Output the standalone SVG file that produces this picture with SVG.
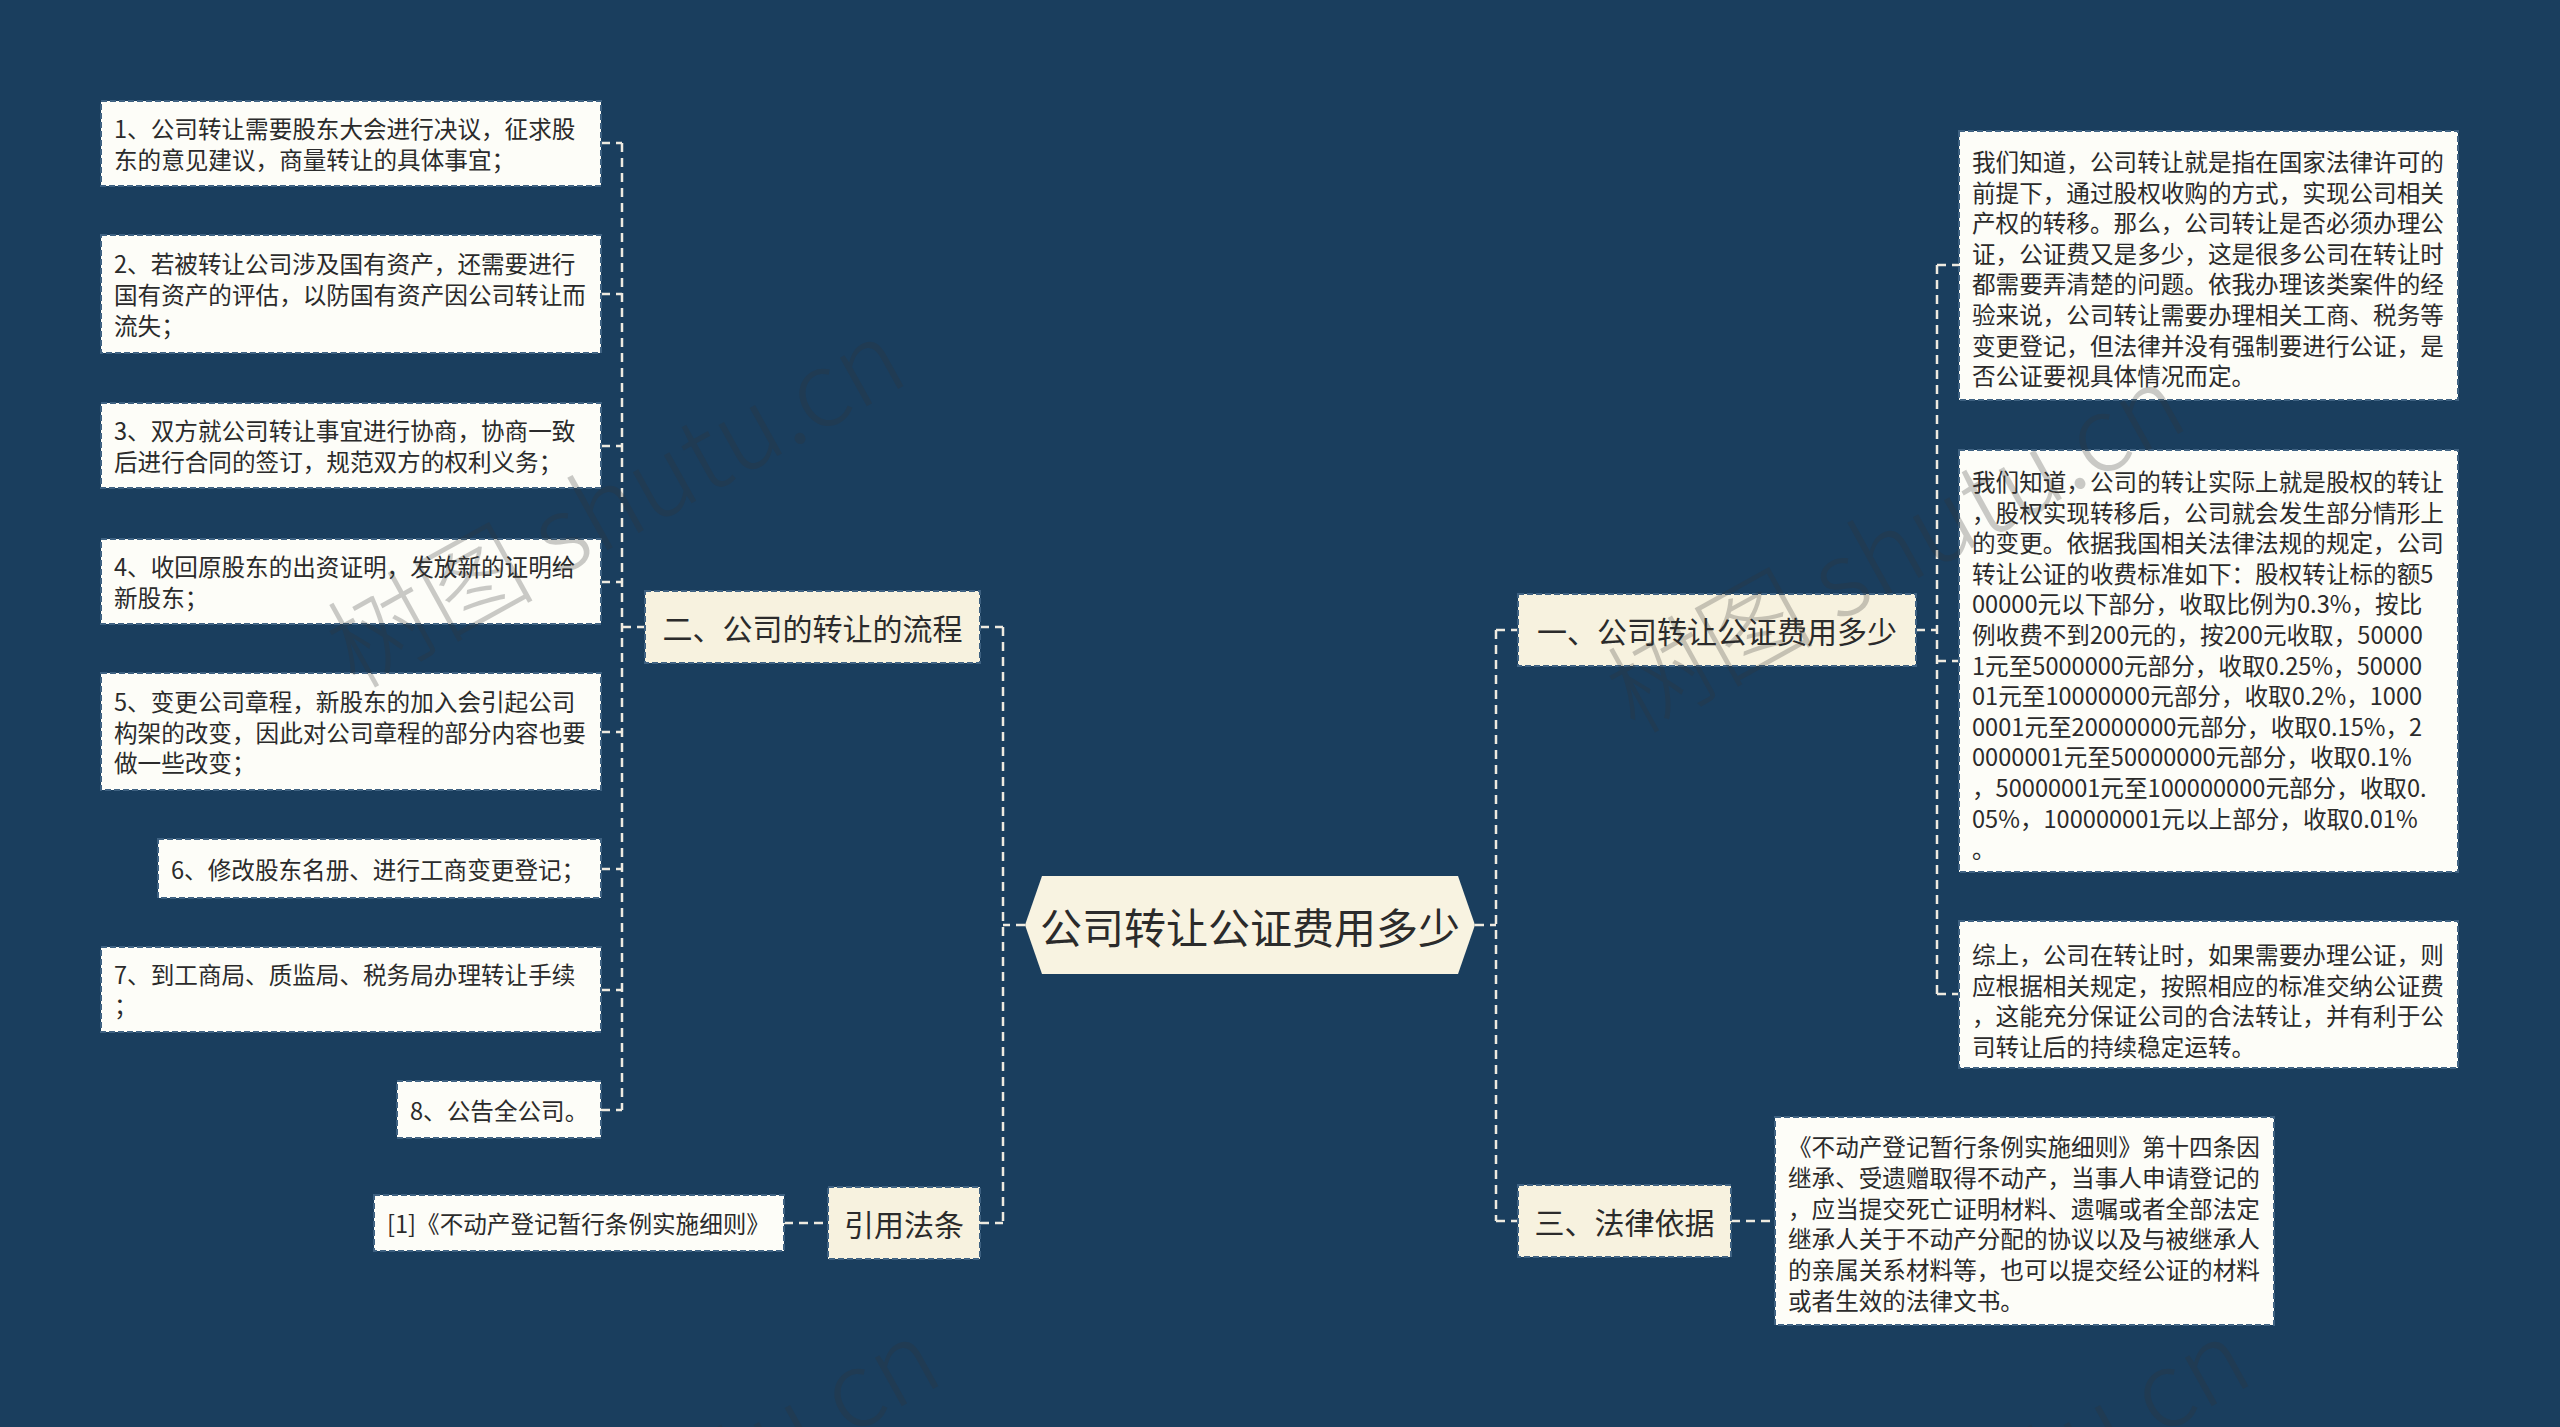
<svg xmlns="http://www.w3.org/2000/svg" width="2560" height="1427" viewBox="0 0 2560 1427">
<style>
  .bg { fill: #1a3e5e; }
  .conn { fill: none; stroke: #eeeae0; stroke-width: 2.5; stroke-dasharray: 9 6; }
  .leaf { fill: #fdfdf8; stroke: #3f6282; stroke-width: 2; stroke-dasharray: 6 3; }
  .branch { fill: #f7f2df; stroke: #3f6282; stroke-width: 2; stroke-dasharray: 6 3; }
  .root { fill: #f8f3e1; }
  .t { font-family: "Noto Sans CJK SC", "Noto Sans", sans-serif; fill: #2b2b2b; dominant-baseline: central; }
  .ts { font-size: 23.6px; }
  .tb { font-size: 30px; text-anchor: middle; }
  .tr { font-size: 42px; text-anchor: middle; }
  .wm { font-family: "Noto Sans CJK SC", "Noto Sans", sans-serif; font-size: 104px; font-weight: 300; fill: #333333; opacity: 0.25; }
</style>
<rect class="bg" x="0" y="0" width="2560" height="1427"/>

<g id="connectors">
  <path class="conn" d="M622,143 V1110"/>
  <path class="conn" d="M601,143 H622 M601,294 H622 M601,446 H622 M601,582 H622 M601,732 H622 M601,869 H622 M601,990 H622 M601,1110 H622"/>
  <path class="conn" d="M622,627 H645"/>
  <path class="conn" d="M1003,627 V1223"/>
  <path class="conn" d="M980,627 H1003 M1025,925 H1003 M980,1223 H1003"/>
  <path class="conn" d="M784,1223 H828"/>
  <path class="conn" d="M1496,630 V1221"/>
  <path class="conn" d="M1475,925 H1496 M1496,630 H1518 M1496,1221 H1518"/>
  <path class="conn" d="M1937,265 V994"/>
  <path class="conn" d="M1916,630 H1937 M1937,265 H1959 M1937,661 H1959 M1937,994 H1959"/>
  <path class="conn" d="M1731,1221 H1775"/>
</g>

<g id="root">
  <path class="root" d="M1025,925 L1042,876 L1458,876 L1475,925 L1458,974 L1042,974 Z"/>
  <text class="t tr" x="1250" y="925">公司转让公证费用多少</text>
</g>

<g id="branch-2">
  <rect class="branch" x="645" y="591" width="335" height="72"/>
  <text class="t tb" x="812.5" y="627">二、公司的转让的流程</text>
</g>
<g id="branch-ref">
  <rect class="branch" x="828" y="1187" width="152" height="72"/>
  <text class="t tb" x="904" y="1223">引用法条</text>
</g>
<g id="branch-1">
  <rect class="branch" x="1518" y="594" width="398" height="72"/>
  <text class="t tb" x="1717" y="630">一、公司转让公证费用多少</text>
</g>
<g id="branch-3">
  <rect class="branch" x="1518" y="1185" width="213" height="72"/>
  <text class="t tb" x="1624.5" y="1221">三、法律依据</text>
</g>

<g id="leaf-l1">
  <rect class="leaf" x="101" y="101" width="500" height="85"/>
  <text class="t ts" x="114" y="128">1、公司转让需要股东大会进行决议，征求股</text>
  <text class="t ts" x="114" y="159">东的意见建议，商量转让的具体事宜；</text>
</g>
<g id="leaf-l2">
  <rect class="leaf" x="101" y="235" width="500" height="118"/>
  <text class="t ts" x="114" y="263">2、若被转让公司涉及国有资产，还需要进行</text>
  <text class="t ts" x="114" y="294">国有资产的评估，以防国有资产因公司转让而</text>
  <text class="t ts" x="114" y="325">流失；</text>
</g>
<g id="leaf-l3">
  <rect class="leaf" x="101" y="403" width="500" height="85"/>
  <text class="t ts" x="114" y="430">3、双方就公司转让事宜进行协商，协商一致</text>
  <text class="t ts" x="114" y="461">后进行合同的签订，规范双方的权利义务；</text>
</g>
<g id="leaf-l4">
  <rect class="leaf" x="101" y="539" width="500" height="85"/>
  <text class="t ts" x="114" y="566">4、收回原股东的出资证明，发放新的证明给</text>
  <text class="t ts" x="114" y="597">新股东；</text>
</g>
<g id="leaf-l5">
  <rect class="leaf" x="101" y="673" width="500" height="117"/>
  <text class="t ts" x="114" y="701">5、变更公司章程，新股东的加入会引起公司</text>
  <text class="t ts" x="114" y="732">构架的改变，因此对公司章程的部分内容也要</text>
  <text class="t ts" x="114" y="762">做一些改变；</text>
</g>
<g id="leaf-l6">
  <rect class="leaf" x="158" y="839" width="443" height="59"/>
  <text class="t ts" x="171" y="869">6、修改股东名册、进行工商变更登记；</text>
</g>
<g id="leaf-l7">
  <rect class="leaf" x="101" y="947" width="500" height="85"/>
  <text class="t ts" x="114" y="974">7、到工商局、质监局、税务局办理转让手续</text>
  <text class="t ts" x="114" y="1005">；</text>
</g>
<g id="leaf-l8">
  <rect class="leaf" x="397" y="1081" width="204" height="57"/>
  <text class="t ts" x="410" y="1110">8、公告全公司。</text>
</g>
<g id="leaf-ref">
  <rect class="leaf" x="374" y="1195" width="410" height="56"/>
  <text class="t ts" x="387" y="1223">[1]《不动产登记暂行条例实施细则》</text>
</g>

<g id="leaf-r1">
  <rect class="leaf" x="1959" y="131" width="499" height="269"/>
  <text class="t ts" x="1972" y="161">我们知道，公司转让就是指在国家法律许可的</text>
  <text class="t ts" x="1972" y="191.6">前提下，通过股权收购的方式，实现公司相关</text>
  <text class="t ts" x="1972" y="222.2">产权的转移。那么，公司转让是否必须办理公</text>
  <text class="t ts" x="1972" y="252.8">证，公证费又是多少，这是很多公司在转让时</text>
  <text class="t ts" x="1972" y="283.4">都需要弄清楚的问题。依我办理该类案件的经</text>
  <text class="t ts" x="1972" y="314">验来说，公司转让需要办理相关工商、税务等</text>
  <text class="t ts" x="1972" y="344.6">变更登记，但法律并没有强制要进行公证，是</text>
  <text class="t ts" x="1972" y="375.2">否公证要视具体情况而定。</text>
</g>
<g id="leaf-r2">
  <rect class="leaf" x="1959" y="450" width="499" height="422"/>
  <text class="t ts" x="1972" y="481">我们知道，公司的转让实际上就是股权的转让</text>
  <text class="t ts" x="1972" y="511.6">，股权实现转移后，公司就会发生部分情形上</text>
  <text class="t ts" x="1972" y="542.2">的变更。依据我国相关法律法规的规定，公司</text>
  <text class="t ts" x="1972" y="572.8">转让公证的收费标准如下：股权转让标的额5</text>
  <text class="t ts" x="1972" y="603.4">00000元以下部分，收取比例为0.3%，按比</text>
  <text class="t ts" x="1972" y="634">例收费不到200元的，按200元收取，50000</text>
  <text class="t ts" x="1972" y="664.6">1元至5000000元部分，收取0.25%，50000</text>
  <text class="t ts" x="1972" y="695.2">01元至10000000元部分，收取0.2%，1000</text>
  <text class="t ts" x="1972" y="725.8">0001元至20000000元部分，收取0.15%，2</text>
  <text class="t ts" x="1972" y="756.4">0000001元至50000000元部分，收取0.1%</text>
  <text class="t ts" x="1972" y="787">，50000001元至100000000元部分，收取0.</text>
  <text class="t ts" x="1972" y="817.6">05%，100000001元以上部分，收取0.01%</text>
  <text class="t ts" x="1972" y="848.2">。</text>
</g>
<g id="leaf-r3">
  <rect class="leaf" x="1959" y="921" width="499" height="147"/>
  <text class="t ts" x="1972" y="954">综上，公司在转让时，如果需要办理公证，则</text>
  <text class="t ts" x="1972" y="984.6">应根据相关规定，按照相应的标准交纳公证费</text>
  <text class="t ts" x="1972" y="1015.2">，这能充分保证公司的合法转让，并有利于公</text>
  <text class="t ts" x="1972" y="1045.8">司转让后的持续稳定运转。</text>
</g>
<g id="leaf-r4">
  <rect class="leaf" x="1775" y="1117" width="499" height="208"/>
  <text class="t ts" x="1788" y="1146">《不动产登记暂行条例实施细则》第十四条因</text>
  <text class="t ts" x="1788" y="1176.8">继承、受遗赠取得不动产，当事人申请登记的</text>
  <text class="t ts" x="1788" y="1207.6">，应当提交死亡证明材料、遗嘱或者全部法定</text>
  <text class="t ts" x="1788" y="1238.4">继承人关于不动产分配的协议以及与被继承人</text>
  <text class="t ts" x="1788" y="1269.2">的亲属关系材料等，也可以提交经公证的材料</text>
  <text class="t ts" x="1788" y="1300">或者生效的法律文书。</text>
</g>

<g id="watermarks">
  <text class="wm" transform="translate(355,690) rotate(-29)">树图 shutu.cn</text>
  <text class="wm" transform="translate(1635,735) rotate(-29)">树图 shutu.cn</text>
  <text class="wm" transform="translate(390,1690) rotate(-29)">树图 shutu.cn</text>
  <text class="wm" transform="translate(1700,1690) rotate(-29)">树图 shutu.cn</text>
</g>
</svg>
